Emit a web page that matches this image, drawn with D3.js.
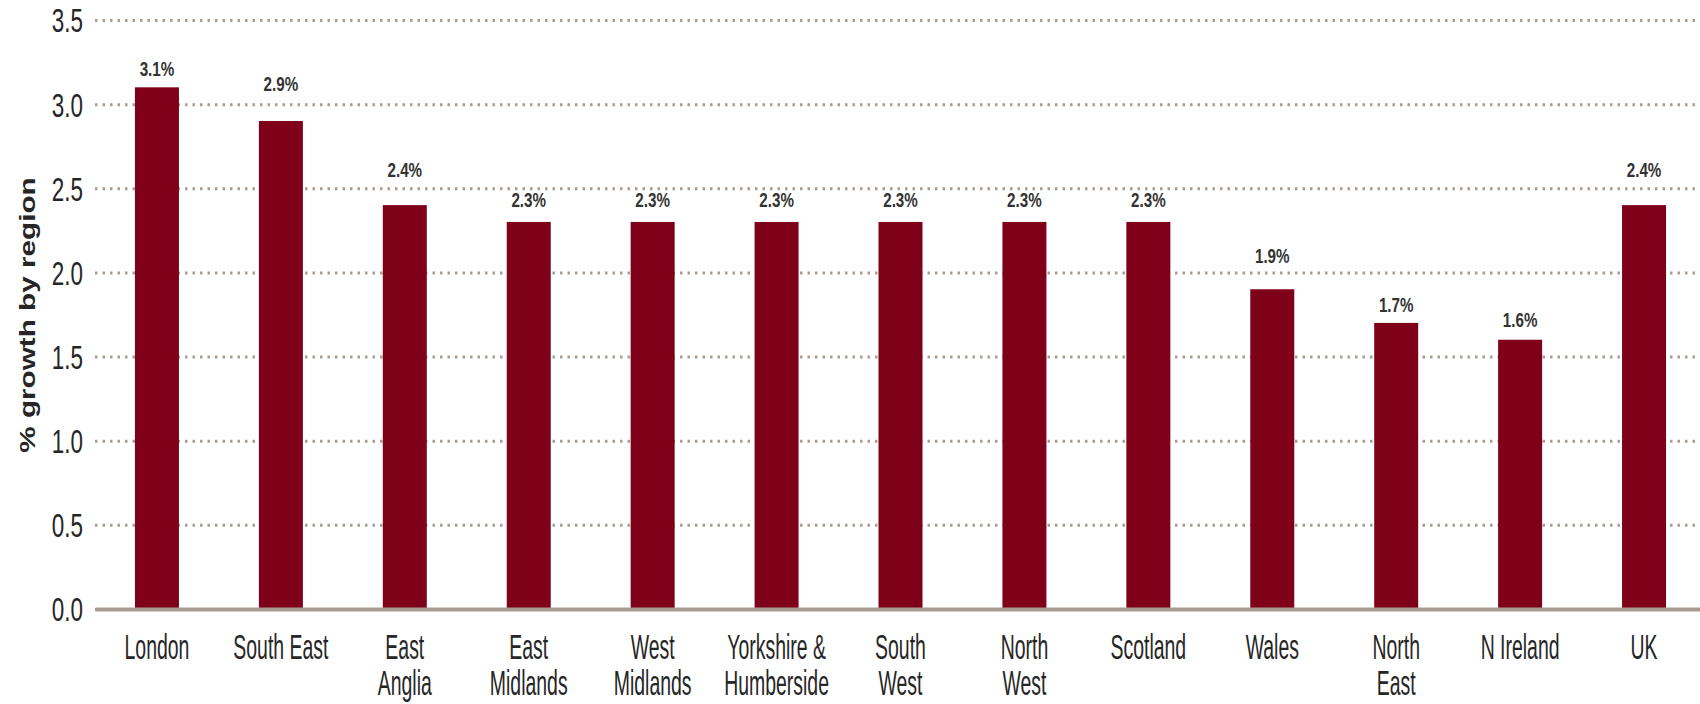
<!DOCTYPE html>
<html>
<head>
<meta charset="utf-8">
<script src="https://cdn.jsdelivr.net/npm/d3@7"></script>
<style>
  html, body { margin: 0; padding: 0; background: #fff; }
  svg { display: block; }
</style>
</head>
<body>
<svg id="chart"></svg>
<script>
// data
const regions = ['London', 'South East', 'East\nAnglia', 'East\nMidlands', 'West\nMidlands',
  'Yorkshire &\nHumberside', 'South\nWest', 'North\nWest', 'Scotland', 'Wales', 'North\nEast',
  'N Ireland', 'UK'];
const growth = [3.1, 2.9, 2.4, 2.3, 2.3, 2.3, 2.3, 2.3, 2.3, 1.9, 1.7, 1.6, 2.4];
const yTicks = [0, 0.5, 1.0, 1.5, 2.0, 2.5, 3.0, 3.5];

// label lift above each bar top (px), the source places them by hand
const labelLift = [24, 43, 41, 28, 28, 28, 28, 28, 28, 39, 24, 26, 41];

const W = 1700, H = 704;
const svg = d3.select('#chart').attr('width', W).attr('height', H);
svg.selectAll('*').remove();

const margin = { left: 95, top: 20, bottom: 609 };
const barColor = '#7f0019';
const gridColor = '#a99c92';
const font = 'Liberation Sans, Arial, sans-serif';

const x = d3.scaleBand()
  .domain(regions)
  .range([margin.left, 1706])
  .paddingInner(0.645)
  .paddingOuter(0.3225);

const y = d3.scaleLinear()
  .domain([0, 3.5])
  .range([margin.bottom, margin.top]);

// y axis + dotted gridlines
const yAxis = svg.append('g')
  .attr('transform', `translate(${margin.left},0)`)
  .call(d3.axisLeft(y).tickValues(yTicks).tickFormat(d3.format('.1f')).tickSize(-(W - margin.left)));
yAxis.select('.domain').remove();
yAxis.selectAll('.tick line')
  .attr('stroke', gridColor)
  .attr('stroke-width', 3)
  .attr('stroke-dasharray', '2.5,5');
yAxis.selectAll('.tick text')
  .attr('font-family', font)
  .attr('font-size', 33)
  .attr('fill', '#262626')
  .attr('x', -12 / 0.68)
  .attr('dy', '0.36em')
  .attr('transform', 'scale(0.68,1)');

// bars
svg.append('g')
  .selectAll('rect')
  .data(growth)
  .enter()
  .append('rect')
  .attr('x', (d, i) => x(regions[i]))
  .attr('y', d => y(d))
  .attr('width', x.bandwidth())
  .attr('height', d => y(0) - y(d))
  .attr('fill', barColor);

// value labels
svg.append('g')
  .selectAll('text')
  .data(growth)
  .enter()
  .append('text')
  .attr('transform', (d, i) =>
    `translate(${x(regions[i]) + x.bandwidth() / 2},${y(d) - labelLift[i] + 13}) scale(0.76,1)`)
  .attr('text-anchor', 'middle')
  .attr('font-family', font)
  .attr('font-weight', 'bold')
  .attr('font-size', 20)
  .attr('fill', '#333')
  .text(d => d.toFixed(1) + '%');

// x axis
const xAxis = svg.append('g')
  .attr('transform', `translate(0,${margin.bottom})`)
  .call(d3.axisBottom(x).tickSize(0));
xAxis.select('.domain')
  .attr('stroke', gridColor)
  .attr('stroke-width', 4);
xAxis.selectAll('.tick text')
  .attr('font-family', font)
  .attr('font-size', 36)
  .attr('fill', '#262626')
  .attr('y', 50)
  .attr('dy', null)
  .attr('transform', 'scale(0.54,1)')
  .text(null)
  .each(function (d) {
    const t = d3.select(this);
    d.split('\n').forEach((line, k) => {
      t.append('tspan').attr('x', 0).attr('dy', k === 0 ? 0 : 36).text(line);
    });
  });

// y title
svg.append('text')
  .attr('transform', 'translate(35,315) rotate(-90) scale(1.35,1)')
  .attr('text-anchor', 'middle')
  .attr('font-family', font)
  .attr('font-weight', 'bold')
  .attr('font-size', 22)
  .attr('fill', '#262626')
  .text('% growth by region');
</script>
</body>
</html>
